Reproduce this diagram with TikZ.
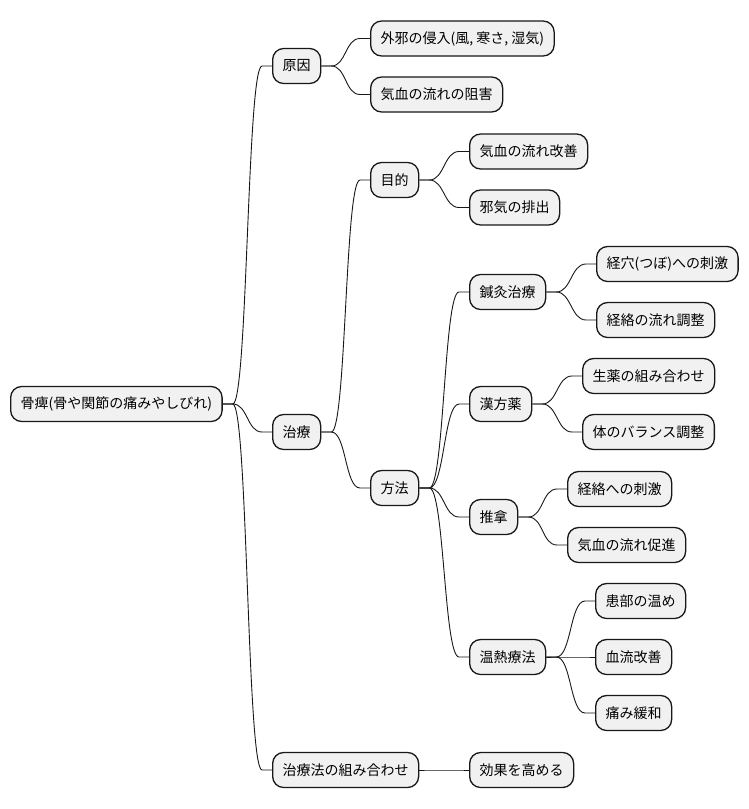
\documentclass[tikz,border=0pt]{standalone}
\usepackage{fontspec}
\setmainfont{Noto Sans CJK JP}
\usetikzlibrary{calc}
\definecolor{boxfill}{HTML}{F1F1F1}
\definecolor{boxline}{HTML}{181818}
\tikzset{
  mmnode/.style={draw=boxline, fill=boxfill, line width=1.3pt, rounded corners=11pt,
    inner xsep=10pt, inner ysep=0pt, minimum height=35pt, anchor=west,
    font=\fontsize{14}{16}\selectfont, text=black},
  mmlink/.style={draw=boxline, line width=0.9pt}
}
\newcommand\mmconn[2]{\draw[mmlink] (#1.east) -- ++(10,0) .. controls +(15,0) and +(-15,0) .. ($(#2.west)+(-10,0)$) -- (#2.west);}
\begin{document}
\begin{tikzpicture}[x=1pt,y=-1pt]
\useasboundingbox[fill=white] (0,0) rectangle (748,809);
\node[mmnode] (root) at (10,404) {骨痺(骨や関節の痛みやしびれ)};
\node[mmnode] (gen) at (272,66) {原因};
\node[mmnode] (gen1) at (370,38.5) {外邪の侵入(風, 寒さ, 湿気)};
\node[mmnode] (gen2) at (370,94.5) {気血の流れの阻害};
\node[mmnode] (chi) at (272,432) {治療};
\node[mmnode] (mok) at (370,180) {目的};
\node[mmnode] (mok1) at (469,151.5) {気血の流れ改善};
\node[mmnode] (mok2) at (469,207.5) {邪気の排出};
\node[mmnode] (hou) at (370,488) {方法};
\node[mmnode] (shin) at (469,292) {鍼灸治療};
\node[mmnode] (shin1) at (596,264) {経穴(つぼ)への刺激};
\node[mmnode] (shin2) at (596,320) {経絡の流れ調整};
\node[mmnode] (kan) at (469,404) {漢方薬};
\node[mmnode] (kan1) at (582,376) {生薬の組み合わせ};
\node[mmnode] (kan2) at (582,432) {体のバランス調整};
\node[mmnode] (sui) at (469,517) {推拿};
\node[mmnode] (sui1) at (567,489) {経絡への刺激};
\node[mmnode] (sui2) at (567,545) {気血の流れ促進};
\node[mmnode] (on) at (469,657) {温熱療法};
\node[mmnode] (on1) at (595,601) {患部の温め};
\node[mmnode] (on2) at (595,657) {血流改善};
\node[mmnode] (on3) at (595,713) {痛み緩和};
\node[mmnode] (kum) at (272,770) {治療法の組み合わせ};
\node[mmnode] (kum1) at (469,770) {効果を高める};
\mmconn{root}{gen}
\mmconn{root}{chi}
\mmconn{root}{kum}
\mmconn{gen}{gen1}
\mmconn{gen}{gen2}
\mmconn{chi}{mok}
\mmconn{chi}{hou}
\mmconn{mok}{mok1}
\mmconn{mok}{mok2}
\mmconn{hou}{shin}
\mmconn{hou}{kan}
\mmconn{hou}{sui}
\mmconn{hou}{on}
\mmconn{shin}{shin1}
\mmconn{shin}{shin2}
\mmconn{kan}{kan1}
\mmconn{kan}{kan2}
\mmconn{sui}{sui1}
\mmconn{sui}{sui2}
\mmconn{on}{on1}
\mmconn{on}{on2}
\mmconn{on}{on3}
\mmconn{kum}{kum1}
\end{tikzpicture}
\end{document}
